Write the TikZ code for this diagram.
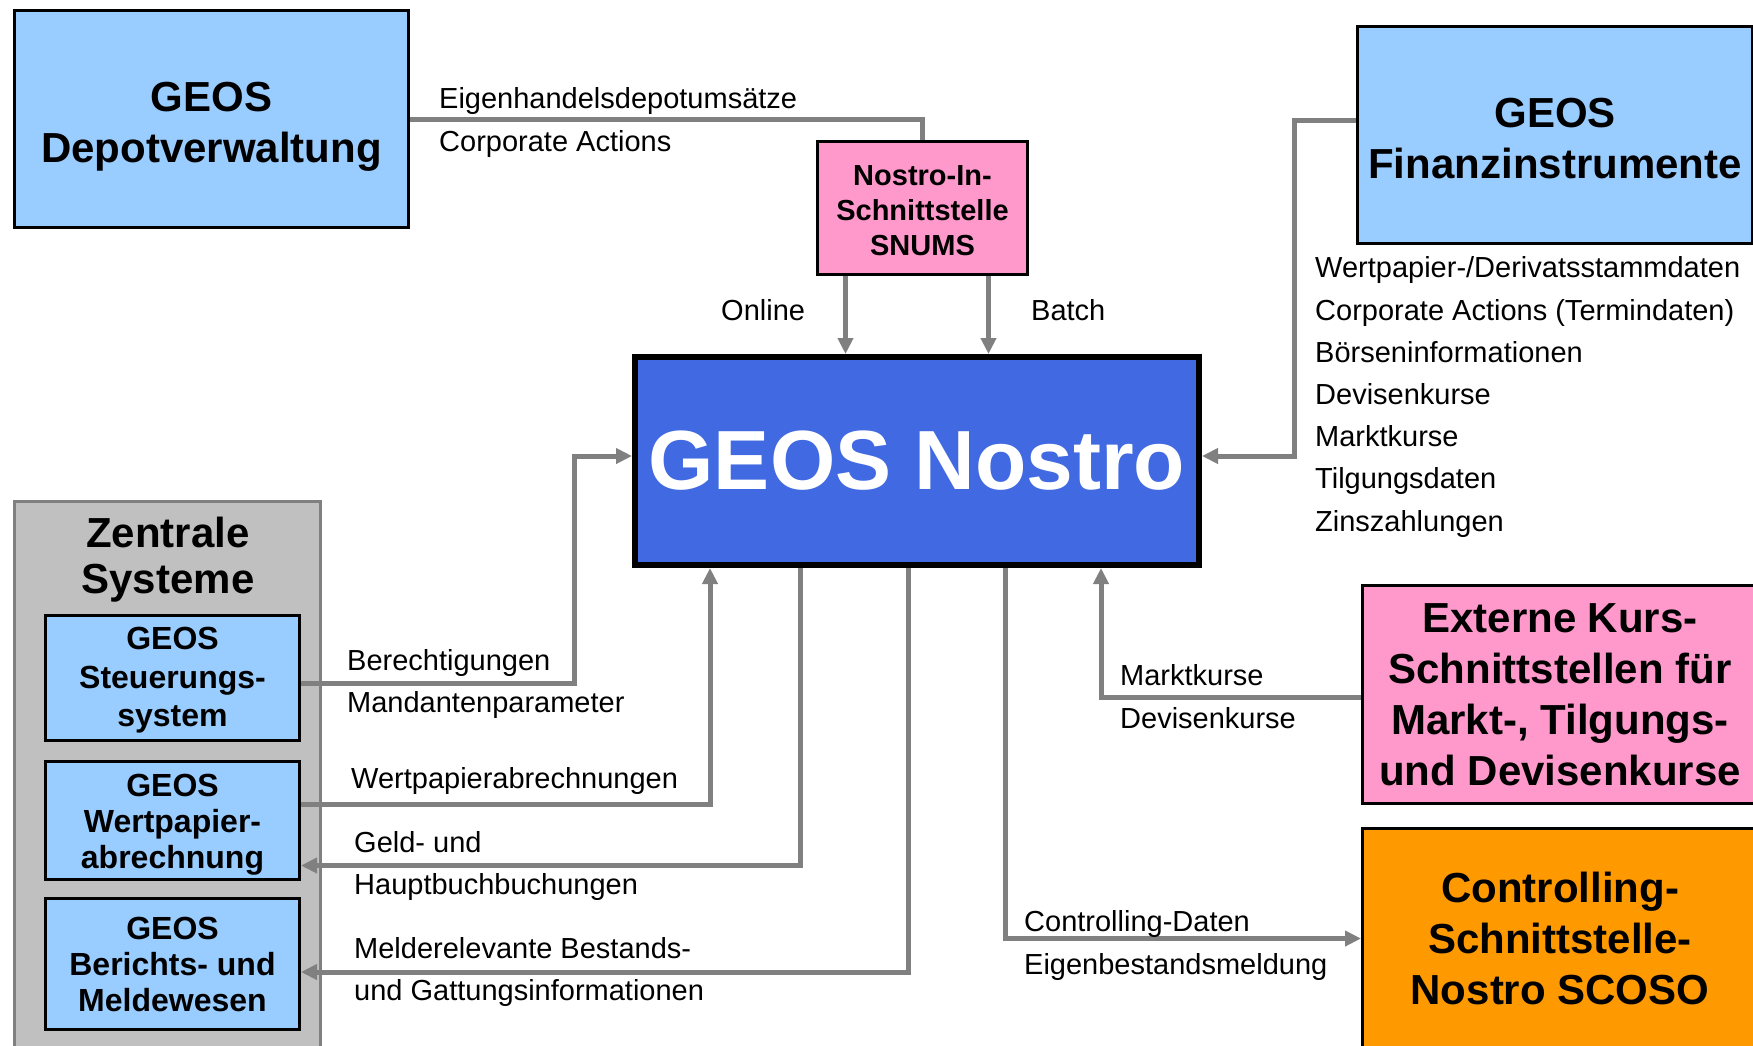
\documentclass[tikz,border=0pt]{standalone}
\usepackage{fontspec}
\setmainfont{Liberation Sans}
\usetikzlibrary{arrows.meta}
\definecolor{hellblau}{RGB}{153,204,255}
\definecolor{rosa}{RGB}{255,153,204}
\definecolor{scosoorange}{RGB}{255,153,0}
\definecolor{nostroblau}{RGB}{65,105,225}
\definecolor{hellgrau}{RGB}{192,192,192}
\definecolor{liniengrau}{RGB}{128,128,128}

\begin{document}
\begin{tikzpicture}[x=1pt, y=-1pt,
    system/.style={draw=black, line width=3pt, inner sep=0pt, align=center},
    gross/.style={font=\fontsize{42}{51}\selectfont\bfseries},
    mittel/.style={font=\fontsize{32}{36}\selectfont\bfseries},
    lbl/.style={anchor=west, inner sep=0pt, font=\fontsize{29}{35}\selectfont, text height=21pt, text depth=0pt},
    leitung/.style={draw=liniengrau, line width=5pt},
    pfeil/.style={leitung, -{Triangle[length=16pt, width=15pt]}}]
  \useasboundingbox (0,0) rectangle (1753,1045);
  \clip (0,0) rectangle (1753,1045);

  \node[system, gross, fill=hellblau, minimum width=394pt, minimum height=217pt] (depot) at (211.5,119) {\rule{0pt}{44pt}GEOS\\Depotverwaltung};
  \node[system, fill=rosa, minimum width=210pt, minimum height=133pt, font=\fontsize{29}{35}\selectfont\bfseries] (snums) at (922.5,208) {\rule{0pt}{26pt}Nostro-In-\\Schnittstelle\\SNUMS};
  \node[system, line width=6pt, fill=nostroblau, minimum width=564pt, minimum height=208pt, text=white, font=\fontsize{84}{90}\selectfont\bfseries] (nostro) at (917,461) {GEOS Nostro};
  \node[system, gross, fill=hellblau, minimum width=395pt, minimum height=217pt] (finanz) at (1555,135) {\rule{0pt}{36pt}GEOS\\Finanzinstrumente};
  \node[system, gross, fill=rosa, minimum width=395pt, minimum height=218pt] (extern) at (1560,694.5) {Externe Kurs-\\Schnittstellen für\\Markt-, Tilgungs-\\und Devisenkurse};
  \node[system, gross, fill=scosoorange, minimum width=395pt, minimum height=220pt] (scoso) at (1560,938.5) {Controlling-\\Schnittstelle-\\Nostro SCOSO};

  \node[system, draw=liniengrau, fill=hellgrau, minimum width=306pt, minimum height=547pt] (zentral) at (167.5,775) {};
  \node[align=center, inner sep=0pt, font=\fontsize{42}{46}\selectfont\bfseries] (zentraltitel) at (168,560) {Zentrale\\Systeme};
  \node[system, fill=hellblau, minimum width=254pt, minimum height=125pt, font=\fontsize{32}{38.5}\selectfont\bfseries] (steuer) at (172.5,678) {\rule{0pt}{27pt}GEOS\\Steuerungs-\\system};
  \node[system, mittel, fill=hellblau, minimum width=254pt, minimum height=118pt] (wert) at (172.5,820.5) {\rule{0pt}{30pt}GEOS\\Wertpapier-\\abrechnung};
  \node[system, mittel, fill=hellblau, minimum width=254pt, minimum height=131pt] (bericht) at (172.5,964) {GEOS\\Berichts- und\\Meldewesen};

  \draw[leitung] (depot.east) -| (snums.north);
  \draw[pfeil] ([xshift=-77pt]snums.south) -- ([xshift=-77pt]snums.south |- nostro.north);
  \draw[pfeil] ([xshift=66pt]snums.south) -- ([xshift=66pt]snums.south |- nostro.north);
  \draw[pfeil] ([yshift=15pt]finanz.west) -- ++(-62,0) |- ([yshift=5pt]nostro.east);
  \draw[pfeil] ([yshift=-5pt]steuer.east) -- ++(273,0) |- ([yshift=5pt]nostro.west);
  \draw[pfeil] ([yshift=16pt]wert.east) -| ([xshift=-207pt]nostro.south);
  \draw[pfeil] ([xshift=-117pt]nostro.south) |- ([yshift=-45pt]wert.east);
  \draw[pfeil] ([xshift=-9pt]nostro.south) |- ([yshift=-8pt]bericht.east);
  \draw[pfeil] ([xshift=88pt]nostro.south) |- (scoso.west);
  \draw[pfeil] ([yshift=-2.5pt]extern.west) -| ([xshift=184pt]nostro.south);

  \foreach \name/\xpos/\ypos/\txt in {eig/439/98/Eigenhandelsdepotumsätze, corp/439/141/Corporate Actions,
      online/721/310/Online, batch/1031/310/Batch,
      berecht/347/660/Berechtigungen, mandant/347/702/Mandantenparameter,
      wpabr/351/778/Wertpapierabrechnungen,
      geld/354/842/Geld- und, haupt/354/884/Hauptbuchbuchungen,
      melde/354/948/Melderelevante Bestands-, gattung/354/990/und Gattungsinformationen,
      markt/1120/675/Marktkurse, devisen/1120/718/Devisenkurse,
      ctrl/1024/921/Controlling-Daten, eigenb/1024/964/Eigenbestandsmeldung}
    \node[lbl] (\name) at (\xpos,\ypos) {\txt};

  \foreach \name/\ypos/\txt in {stamm/267/{Wertpapier-/Derivatsstammdaten}, termin/310/Corporate Actions (Termindaten),
      boerse/352/Börseninformationen, fdevisen/394/Devisenkurse, fmarkt/436/Marktkurse,
      tilgung/478/Tilgungsdaten, zins/521/Zinszahlungen}
    \node[lbl] (\name) at (1315,\ypos) {\txt};
\end{tikzpicture}
\end{document}
